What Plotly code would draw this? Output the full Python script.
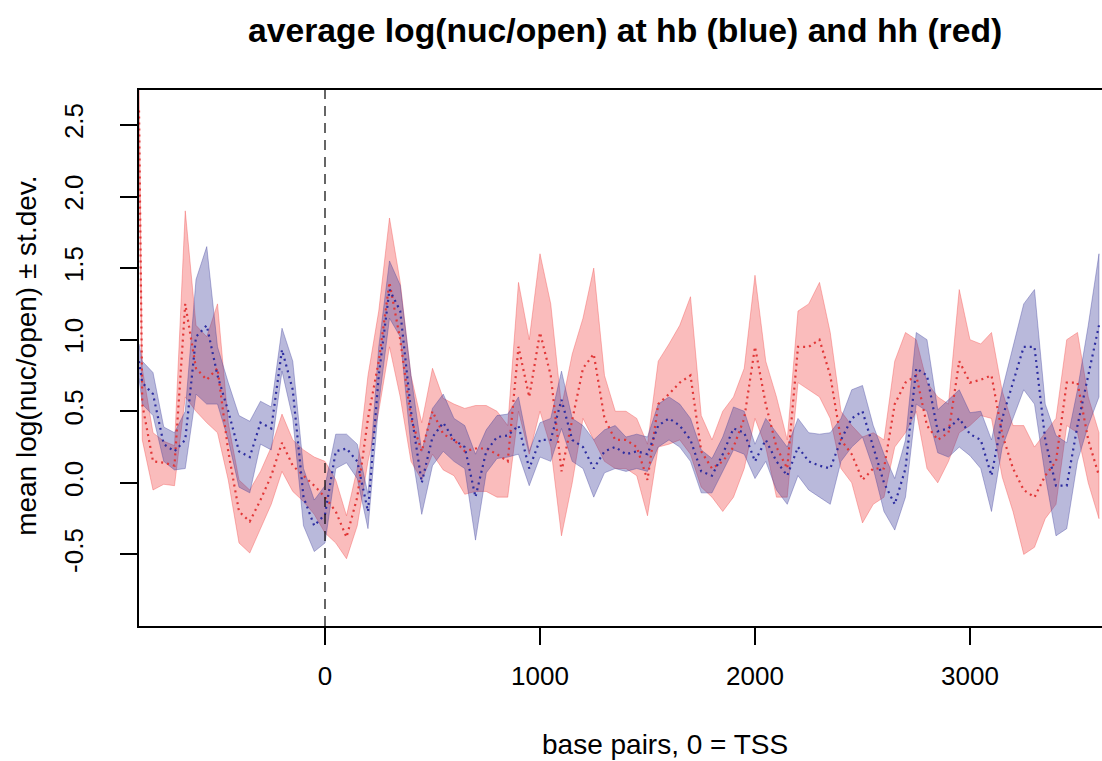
import numpy as np
import plotly.graph_objects as go

# base-pair positions relative to the TSS
bp = [-865, -850, -800, -750, -700, -650, -600, -550, -500, -450, -400, -350, -300,
      -250, -200, -150, -100, -50, 0, 50, 100, 150, 200, 250, 300, 350, 400, 450,
      500, 550, 600, 650, 700, 750, 800, 850, 900, 950, 1000, 1050, 1100, 1150,
      1200, 1250, 1300, 1350, 1400, 1450, 1500, 1550, 1600, 1650, 1700, 1750, 1800,
      1850, 1900, 1950, 2000, 2050, 2100, 2150, 2200, 2250, 2300, 2350, 2400, 2450,
      2500, 2550, 2600, 2650, 2700, 2750, 2800, 2850, 2900, 2950, 3000, 3050, 3100,
      3150, 3200, 3250, 3300, 3350, 3400, 3450, 3500, 3550, 3600]

# hh (red): mean log(nuc/open) and standard deviation
hh_mean = [2.60, 0.55, 0.15, 0.14, 0.12, 1.25, 0.80, 0.72, 0.80, 0.22, -0.20, -0.27, -0.12,
           0.05, 0.28, 0.12, 0.05, -0.02, -0.10, -0.20, -0.38, -0.10, 0.45, 0.85, 1.40, 1.00,
           0.45, 0.22, 0.50, 0.34, 0.30, 0.22, 0.24, 0.24, 0.20, 0.15, 0.95, 0.60, 1.05,
           0.75, 0.08, 0.45, 0.80, 0.90, 0.45, 0.30, 0.30, 0.25, 0.02, 0.55, 0.62, 0.70,
           0.75, 0.22, 0.10, 0.15, 0.25, 0.45, 0.95, 0.55, 0.25, 0.10, 0.95, 0.95, 1.00,
           0.75, 0.30, 0.20, 0.02, 0.10, 0.10, 0.55, 0.70, 0.75, 0.40, 0.30, 0.35, 0.85,
           0.70, 0.72, 0.75, 0.34, 0.10, -0.05, -0.10, 0.05, 0.15, 0.70, 0.70, 0.30, 0.05]
hh_sd = [0.25, 0.25, 0.20, 0.15, 0.14, 0.65, 0.30, 0.30, 0.45, 0.20, 0.22, 0.22, 0.20,
         0.20, 0.20, 0.18, 0.18, 0.20, 0.25, 0.22, 0.15, 0.20, 0.30, 0.35, 0.45, 0.40,
         0.30, 0.20, 0.30, 0.25, 0.25, 0.30, 0.30, 0.30, 0.30, 0.25, 0.45, 0.40, 0.55,
         0.50, 0.45, 0.45, 0.35, 0.60, 0.30, 0.20, 0.20, 0.20, 0.25, 0.30, 0.35, 0.40,
         0.55, 0.25, 0.20, 0.35, 0.35, 0.35, 0.50, 0.30, 0.35, 0.20, 0.25, 0.30, 0.40,
         0.30, 0.20, 0.20, 0.30, 0.25, 0.20, 0.30, 0.35, 0.25, 0.30, 0.30, 0.20, 0.50,
         0.30, 0.25, 0.30, 0.30, 0.30, 0.45, 0.35, 0.30, 0.30, 0.30, 0.35, 0.30, 0.30]

# hb (blue): mean log(nuc/open) and standard deviation
hb_mean = [0.85, 0.70, 0.62, 0.27, 0.22, 0.30, 1.02, 1.10, 0.75, 0.50, 0.22, 0.18, 0.42,
           0.38, 0.93, 0.65, -0.10, -0.30, -0.22, 0.22, 0.24, 0.15, -0.20, 0.75, 1.35, 1.20,
           0.50, 0.00, 0.32, 0.42, 0.30, 0.25, -0.10, 0.22, 0.32, 0.33, 0.40, 0.10, 0.30,
           0.30, 0.58, 0.30, 0.25, 0.10, 0.22, 0.25, 0.20, 0.22, 0.20, 0.40, 0.45, 0.40,
           0.30, 0.08, 0.05, 0.20, 0.38, 0.35, 0.15, 0.30, 0.15, 0.05, 0.25, 0.15, 0.12,
           0.10, 0.30, 0.45, 0.50, 0.25, 0.00, -0.15, 0.10, 0.80, 0.75, 0.36, 0.38, 0.45,
           0.34, 0.30, 0.05, 0.45, 0.70, 0.95, 0.95, 0.30, -0.02, -0.02, 0.40, 0.75, 1.10]
hb_sd = [0.12, 0.15, 0.15, 0.12, 0.13, 0.20, 0.40, 0.55, 0.20, 0.20, 0.25, 0.25, 0.15,
         0.15, 0.15, 0.20, 0.20, 0.18, 0.20, 0.12, 0.10, 0.12, 0.12, 0.20, 0.20, 0.18,
         0.25, 0.22, 0.20, 0.20, 0.15, 0.15, 0.30, 0.15, 0.15, 0.15, 0.20, 0.12, 0.12,
         0.15, 0.20, 0.15, 0.15, 0.20, 0.15, 0.15, 0.12, 0.12, 0.12, 0.15, 0.15, 0.15,
         0.15, 0.15, 0.12, 0.12, 0.15, 0.15, 0.12, 0.15, 0.20, 0.20, 0.20, 0.20, 0.22,
         0.25, 0.15, 0.20, 0.18, 0.15, 0.20, 0.18, 0.20, 0.25, 0.25, 0.15, 0.20, 0.20,
         0.15, 0.20, 0.25, 0.20, 0.25, 0.30, 0.40, 0.25, 0.35, 0.30, 0.25, 0.35, 0.50]

x_ticks = [0, 1000, 2000, 3000]
y_ticks = [-0.5, 0.0, 0.5, 1.0, 1.5, 2.0, 2.5]

FONT = "Liberation Sans, Arial, Helvetica, sans-serif"


def band(x, mean, sd, fill):
    x = np.asarray(x, float)
    m = np.asarray(mean, float)
    s = np.asarray(sd, float)
    return go.Scatter(
        x=np.concatenate([x, x[::-1]]),
        y=np.concatenate([m + s, (m - s)[::-1]]),
        fill="toself", fillcolor=fill, mode="lines",
        line=dict(color=fill, width=1), hoverinfo="skip", showlegend=False,
    )


def mean_line(x, mean, color):
    return go.Scatter(x=x, y=mean, mode="lines",
                      line=dict(color=color, width=2.2, dash="2px,4px"),
                      showlegend=False)


fig = go.Figure()
# red band first, translucent blue band over it
fig.add_trace(band(bp, hh_mean, hh_sd, "rgba(240,70,70,0.36)"))
fig.add_trace(band(bp, hb_mean, hb_sd, "rgba(60,60,155,0.36)"))
fig.add_trace(mean_line(bp, hh_mean, "rgb(225,55,55)"))
fig.add_trace(mean_line(bp, hb_mean, "rgb(45,45,160)"))

# TSS marker
fig.add_shape(type="line", x0=0, x1=0, xref="x", y0=0, y1=1, yref="paper",
              line=dict(color="black", width=1.2, dash="10px,7px"))

fig.update_layout(
    width=1102, height=761,
    margin=dict(l=139, r=0, t=90, b=135),
    paper_bgcolor="white", plot_bgcolor="white",
    font=dict(family=FONT, color="black"),
    showlegend=False,
    xaxis=dict(range=[-865.1, 3614], tickvals=x_ticks, ticktext=[str(v) for v in x_ticks],
               showgrid=False, zeroline=False, showline=True, mirror=True,
               linecolor="black", linewidth=1.5, ticks="outside", ticklen=17,
               tickwidth=1.5, tickcolor="black", tickfont=dict(size=26),
               ticklabelstandoff=9),
    yaxis=dict(range=[-1.0, 2.744], tickvals=y_ticks,
               ticktext=[f"{v:.1f}" for v in y_ticks],
               showgrid=False, zeroline=False, showline=True, mirror=False,
               linecolor="black", linewidth=1.5, ticks="outside", ticklen=17,
               tickwidth=1.5, tickcolor="black", tickfont=dict(size=26),
               tickangle=-90, ticklabelstandoff=27),
    annotations=[
        dict(text="<b>average log(nuc/open) at hb (blue) and hh (red)</b>",
             xref="paper", yref="paper", x=0.5047, y=1.112,
             xanchor="center", yanchor="middle", showarrow=False,
             font=dict(size=33.7, family=FONT)),
        dict(text="base pairs, 0 = TSS", xref="paper", yref="paper",
             x=0.546, y=-0.222, xanchor="center", yanchor="middle",
             showarrow=False, font=dict(size=28, family=FONT)),
        dict(text="mean log(nuc/open) ± st.dev.", xref="paper", yref="paper",
             x=-0.1163, y=0.504, xanchor="center", yanchor="middle",
             textangle=-90, showarrow=False, font=dict(size=28, family=FONT)),
    ],
)

fig.write_html("out.html")
